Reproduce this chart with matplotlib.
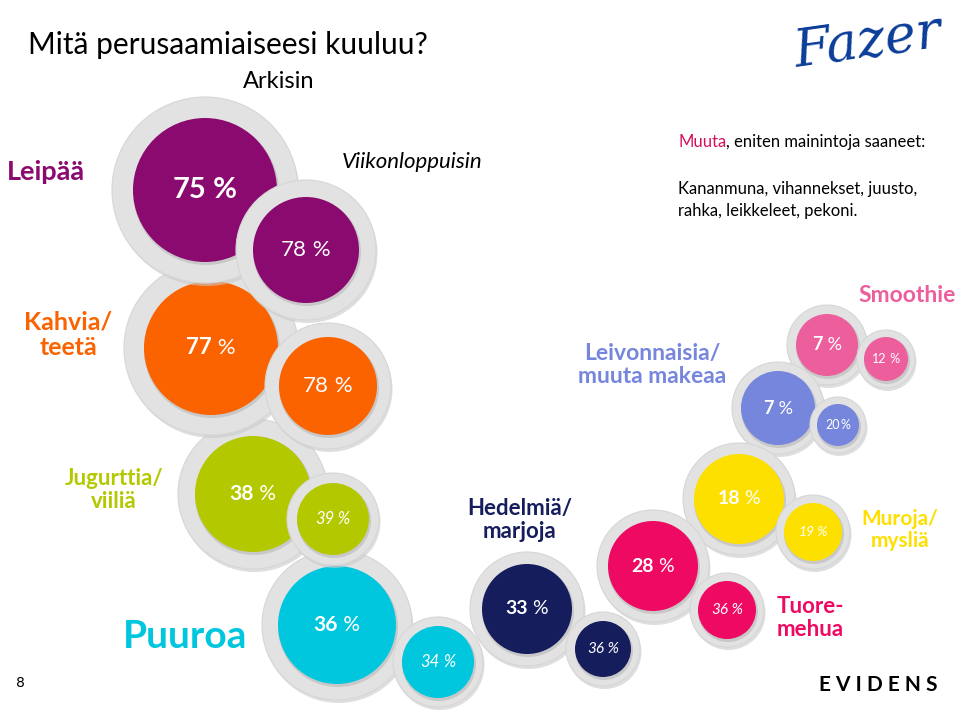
import matplotlib.pyplot as plt
from matplotlib.patches import Circle
from matplotlib.offsetbox import TextArea, HPacker, AnnotationBbox

plt.rcParams['font.family'] = ['Lato', 'DejaVu Sans']

# data
categories = ['Leipää', 'Kahvia/\nteetä', 'Jugurttia/\nviiliä', 'Puuroa',
              'Hedelmiä/\nmarjoja', 'Tuore-\nmehua', 'Muroja/\nmysliä',
              'Leivonnaisia/\nmuuta makeaa', 'Smoothie']
arkisin = [75, 77, 38, 36, 33, 28, 18, 7, 7]
viikonloppuisin = [78, 78, 39, 34, 36, 36, 19, 20, 12]
colors = ['#8a0a6f', '#fa6300', '#b4c800', '#00c6de', '#151d5c',
          '#ee0a63', '#fde000', '#7686dd', '#ec5e9c']

# layout (pixel coordinates)
big_xy = [(205, 190), (211, 348), (253, 494), (337, 625), (527, 609),
          (653, 566), (739, 499), (778, 408), (827, 345)]
big_r = [72, 67, 58, 59, 45, 45, 45, 37, 31]
big_ring = [93, 87, 75, 75, 57, 56, 56, 46, 40]
big_fs = [21, 16, 15, 15, 14, 14, 14, 13, 13]
small_xy = [(306, 250), (328, 386), (333, 519), (438, 662), (603, 649),
            (727, 610), (813, 532), (838, 425), (886, 359)]
small_r = [53, 49, 36, 36, 28, 29, 29, 21, 22]
small_ring = [70, 63, 46, 45, 37, 37, 37, 28, 29]
small_fs = [16, 16, 12, 12, 11, 11, 10, 9, 9]
small_italic = [False, False, True, True, True, True, True, False, False]
label_xy = [(46, 172), (68, 335), (114, 490), (185, 636), (520, 520),
            (777, 618), (900, 530), (652, 365), (907, 295)]
label_ha = ['center', 'center', 'center', 'center', 'center', 'left',
            'center', 'center', 'center']
label_fs = [19.5, 18, 16, 28, 16, 16, 15, 16.5, 16.5]

fig = plt.figure(figsize=(9.6, 7.16), dpi=100)
ax = fig.add_axes([0, 0, 1, 1])
ax.set_xlim(0, 960)
ax.set_ylim(716, 0)
ax.axis('off')


def bubble(xy, r, ring, color, z):
    x, y = xy
    ax.add_patch(Circle((x + 1.5, y + 3), ring, fc='#c9c9c9', ec='none', alpha=0.6, zorder=z))
    ax.add_patch(Circle((x, y), ring, fc='#e2e2e2', ec='#d6d6d6', lw=0.8, zorder=z + 0.1))
    ax.add_patch(Circle((x + 1, y + 2), r + 1, fc='#bdbdbd', ec='none', alpha=0.7, zorder=z + 0.2))
    ax.add_patch(Circle((x, y), r, fc=color, ec='none', zorder=z + 0.3))


def pct(xy, num, sep, size, num_weight, pct_weight, style, z):
    a = TextArea(str(num), textprops=dict(color='white', fontsize=size,
                                          fontweight=num_weight, fontstyle=style))
    b = TextArea(sep + '%', textprops=dict(color='white', fontsize=size,
                                           fontweight=pct_weight, fontstyle=style))
    box = HPacker(children=[a, b], pad=0, sep=0, align='baseline')
    ab = AnnotationBbox(box, xy, frameon=False, box_alignment=(0.5, 0.5), zorder=z)
    ax.add_artist(ab)


n = len(categories)
for i in reversed(range(n)):
    z = (n - i) * 2
    bubble(big_xy[i], big_r[i], big_ring[i], colors[i], z)
    bubble(small_xy[i], small_r[i], small_ring[i], colors[i], z + 1)
    pw = 'bold' if i == 0 else 'normal'
    pct(big_xy[i], arkisin[i], ' ', big_fs[i], 'bold', pw, 'normal', z + 0.5)
    sep = '' if viikonloppuisin[i] == 20 else ' '
    style = 'italic' if small_italic[i] else 'normal'
    pct(small_xy[i], viikonloppuisin[i], sep, small_fs[i], 'normal', 'normal', style, z + 1.5)
    ax.text(label_xy[i][0], label_xy[i][1], categories[i], color=colors[i],
            fontsize=label_fs[i], fontweight='bold', ha=label_ha[i], va='center',
            linespacing=1.15, zorder=40)

ax.text(28, 45, 'Mitä perusaamiaiseesi kuuluu?', fontsize=21.5, ha='left', va='center')
ax.text(279, 82, 'Arkisin', fontsize=17, ha='center', va='center')
ax.text(412, 162, 'Viikonloppuisin', fontsize=16, fontstyle='italic',
        ha='center', va='center', zorder=50)

muuta = HPacker(children=[
    TextArea('Muuta', textprops=dict(fontsize=12, color='#d4105c')),
    TextArea(', eniten mainintoja saaneet:', textprops=dict(fontsize=12, color='black'))],
    pad=0, sep=0, align='baseline')
ax.add_artist(AnnotationBbox(muuta, (678, 142), frameon=False, box_alignment=(0, 0.5)))
ax.text(678, 200, 'Kananmuna, vihannekset, juusto,\nrahka, leikkeleet, pekoni.',
        fontsize=12, ha='left', va='center', linespacing=1.45)

ax.text(868, 42, 'Fazer', fontsize=38, color='#0b3d99', family='DejaVu Serif',
        fontstyle='italic', ha='center', va='center', rotation=8)
ax.text(878, 685, 'E V I D E N S', fontsize=15, fontweight='bold',
        ha='center', va='center')
ax.text(20, 683, '8', fontsize=10, family='DejaVu Sans', ha='center', va='center')

fig.savefig('out.png', dpi=100)
